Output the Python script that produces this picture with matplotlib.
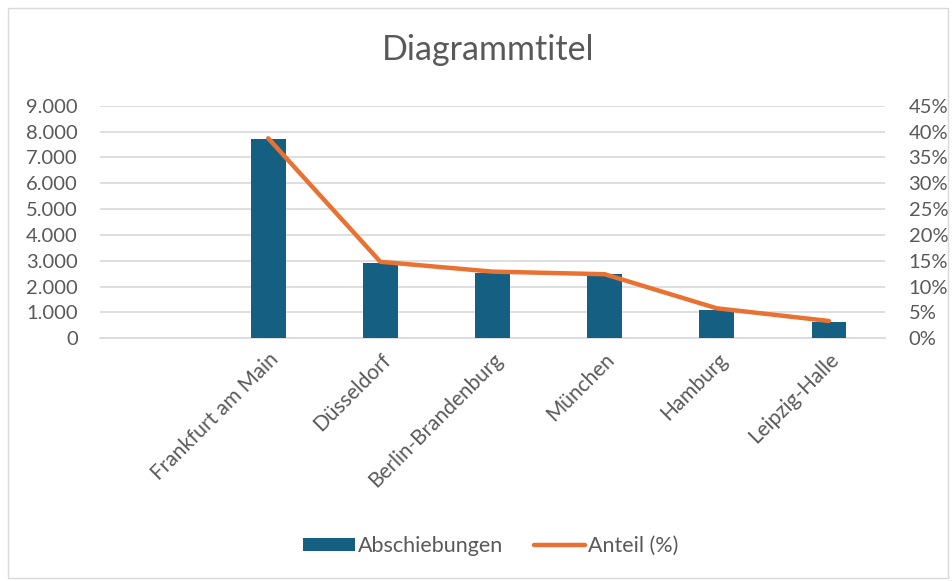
import numpy as np
import matplotlib.pyplot as plt
from matplotlib.ticker import FuncFormatter, MultipleLocator
from matplotlib.patches import Rectangle

plt.rcParams['font.family'] = ['Lato', 'DejaVu Sans']

# data (first slot is an empty category)
categories = ['', 'Frankfurt am Main', 'Düsseldorf', 'Berlin-Brandenburg',
              'München', 'Hamburg', 'Leipzig-Halle']
abschiebungen = [0, 7700, 2920, 2520, 2470, 1090, 640]
anteil = [np.nan, 38.7, 14.8, 12.9, 12.4, 5.8, 3.35]

bar_color = '#156082'
line_color = '#E97132'
text_color = '#595959'
grid_color = '#D9D9D9'

fig = plt.figure(figsize=(9.53, 5.81), dpi=100)
ax = fig.add_axes([100 / 953, 1 - 338.3 / 581, 785 / 953, 232.6 / 581])
ax2 = ax.twinx()

x = np.arange(len(categories))
ax.bar(x, abschiebungen, width=0.31, color=bar_color, label='Abschiebungen', zorder=3)
ax2.plot(x, anteil, color=line_color, lw=3.2, solid_capstyle='round',
         label='Anteil (%)', zorder=4)

ax.set_xlim(-0.5, len(categories) - 0.5)
ax.set_ylim(0, 9000)
ax2.set_ylim(0, 45)
ax.yaxis.set_major_locator(MultipleLocator(1000))
ax2.yaxis.set_major_locator(MultipleLocator(5))
ax.yaxis.set_major_formatter(FuncFormatter(lambda v, p: f'{int(v):,}'.replace(',', '.')))
ax2.yaxis.set_major_formatter(FuncFormatter(lambda v, p: f'{int(v)}%'))

ax.grid(axis='y', color=grid_color, lw=1.2, zorder=0)
ax.set_axisbelow(True)
for a in (ax, ax2):
    for s in a.spines.values():
        s.set_visible(False)
    a.tick_params(length=0, labelsize=14.5, labelcolor=text_color)
ax.spines['bottom'].set_visible(True)
ax.spines['bottom'].set_color(grid_color)
ax.spines['bottom'].set_linewidth(1.2)

ax.set_xticks(x)
ax.set_xticklabels(categories, rotation=45, ha='right', rotation_mode='anchor')
ax.tick_params(axis='x', pad=8, labelsize=15)
ax.tick_params(axis='y', pad=16)
ax2.tick_params(axis='y', pad=17)

fig.text(488 / 953, 1 - 50 / 581, 'Diagrammtitel', ha='center', va='center',
         fontsize=24.5, color=text_color)

h1, l1 = ax.get_legend_handles_labels()
h2, l2 = ax2.get_legend_handles_labels()
fig.legend(h1 + h2, l1 + l2, loc='center', bbox_to_anchor=(491 / 953, 1 - 546 / 581),
           ncol=2, frameon=False, fontsize=15.5, labelcolor=text_color,
           handlelength=2.4, handleheight=0.6, handletextpad=0.15, columnspacing=1.4)

# light frame round the chart area
fig.add_artist(Rectangle((8 / 953, 3 / 581), 940 / 953, 570 / 581, transform=fig.transFigure,
                         fill=False, edgecolor='#D9D9D9', lw=1))

fig.savefig('out.png', dpi=100)
